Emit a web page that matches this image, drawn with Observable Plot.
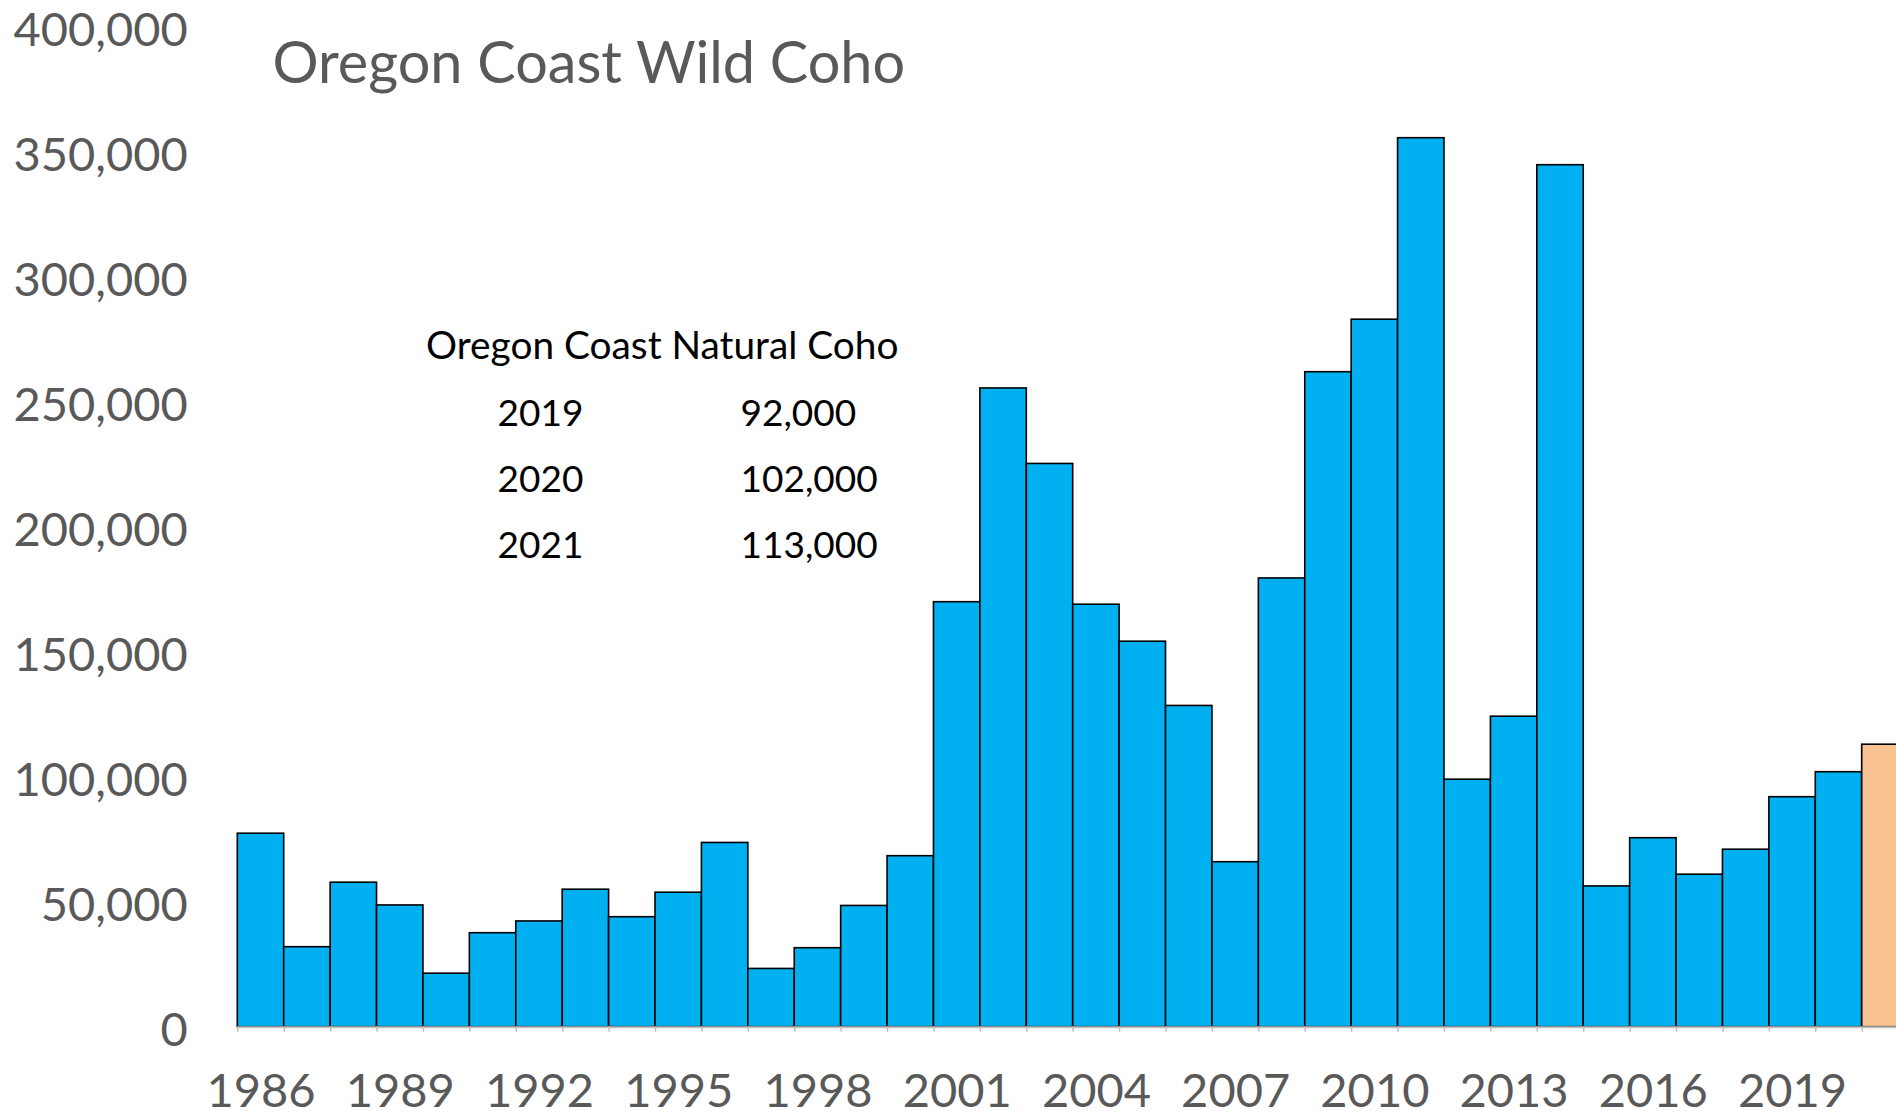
<!DOCTYPE html>
<html>
<head>
<meta charset="utf-8">
<script src="https://cdn.jsdelivr.net/npm/d3@7"></script>
<script src="https://cdn.jsdelivr.net/npm/@observablehq/plot@0.6"></script>
<style>
  html, body { margin: 0; padding: 0; background: #fff; overflow: hidden; }
  #chart { width: 1896px; height: 1119px; }
</style>
</head>
<body>
<div id="chart"></div>
<script>
// ---- data ----
const years = [1986, 1987, 1988, 1989, 1990, 1991, 1992, 1993, 1994, 1995, 1996, 1997,
  1998, 1999, 2000, 2001, 2002, 2003, 2004, 2005, 2006, 2007, 2008, 2009,
  2010, 2011, 2012, 2013, 2014, 2015, 2016, 2017, 2018, 2019, 2020, 2021];
const abundance = [77400, 32000, 57800, 48700, 21400, 37600, 42300, 55000, 44000, 53800, 73700, 23300,
  31600, 48500, 68400, 170000, 255500, 225300, 169000, 154200, 128500, 66000, 179500, 262000,
  283000, 355600, 99000, 124200, 344800, 56300, 75600, 61000, 71000, 92000, 102000, 113000];
const latestYear = 2021;
const xTickYears = [1986, 1989, 1992, 1995, 1998, 2001, 2004, 2007, 2010, 2013, 2016, 2019];
const yTicks = [0, 50000, 100000, 150000, 200000, 250000, 300000, 350000, 400000];
const chartTitle = "Oregon Coast Wild Coho";
const tableTitle = "Oregon Coast Natural Coho";
const tableYears = ["2019", "2020", "2021"];
const tableValues = ["92,000", "102,000", "113,000"];

const data = years.map((year, i) => ({year, value: abundance[i]}));

const mLeft = 237.3, mTop = 26.7, xEnd = 1908.1;
const band = (xEnd - mLeft) / years.length;
const rowY = [413.5, 480, 545.3];
const tableMarks = tableYears.flatMap((y, i) => [
  Plot.text([y], {text: d => d, frameAnchor: "top-left", dx: 497 - mLeft, dy: rowY[i] - mTop,
    textAnchor: "start", lineAnchor: "middle", fontSize: 37, fill: "#000"}),
  Plot.text([tableValues[i]], {text: d => d, frameAnchor: "top-left", dx: 740 - mLeft, dy: rowY[i] - mTop,
    textAnchor: "start", lineAnchor: "middle", fontSize: 37, fill: "#000"})
]);

const chart = Plot.plot({
  width: 1896,
  height: 1119,
  marginLeft: mLeft,
  marginTop: mTop,
  marginBottom: 92.3,
  marginRight: 0,
  style: {fontFamily: "Lato", fontSize: "47px", color: "#595959", background: "#fff"},
  x: {type: "band", domain: years, range: [mLeft, xEnd], padding: 0, round: false},
  y: {domain: [0, 400000]},
  marks: [
    Plot.axisY({ticks: yTicks, tickFormat: d3.format(","), tickSize: 0, tickPadding: 50,
      label: null, dy: 4}),
    Plot.axisX({ticks: xTickYears, tickFormat: d => String(d), tickSize: 0, tickPadding: 46,
      label: null}),
    Plot.barY(data, {x: "year", y: "value",
      fill: d => d.year === latestYear ? "#F8C291" : "#00B0F0",
      stroke: "#000", strokeWidth: 1.6}),
    Plot.ruleY([0], {stroke: "#BFBFBF", strokeWidth: 2}),
    Plot.ruleX(years, {x: d => d, y1: 0, y2: 0, dx: -band / 2, insetBottom: -5,
      stroke: "#BFBFBF", strokeWidth: 1.5}),
    Plot.text([chartTitle], {text: d => d, frameAnchor: "top-left", dx: 272 - mLeft, dy: 64 - mTop,
      textAnchor: "start", lineAnchor: "middle", fontSize: 57.6, fill: "#595959"}),
    Plot.text([tableTitle], {text: d => d, frameAnchor: "top-left", dx: 425.6 - mLeft, dy: 346 - mTop,
      textAnchor: "start", lineAnchor: "middle", fontSize: 38.8, fill: "#000"}),
    ...tableMarks
  ]
});
document.getElementById("chart").append(chart);
</script>
</body>
</html>
